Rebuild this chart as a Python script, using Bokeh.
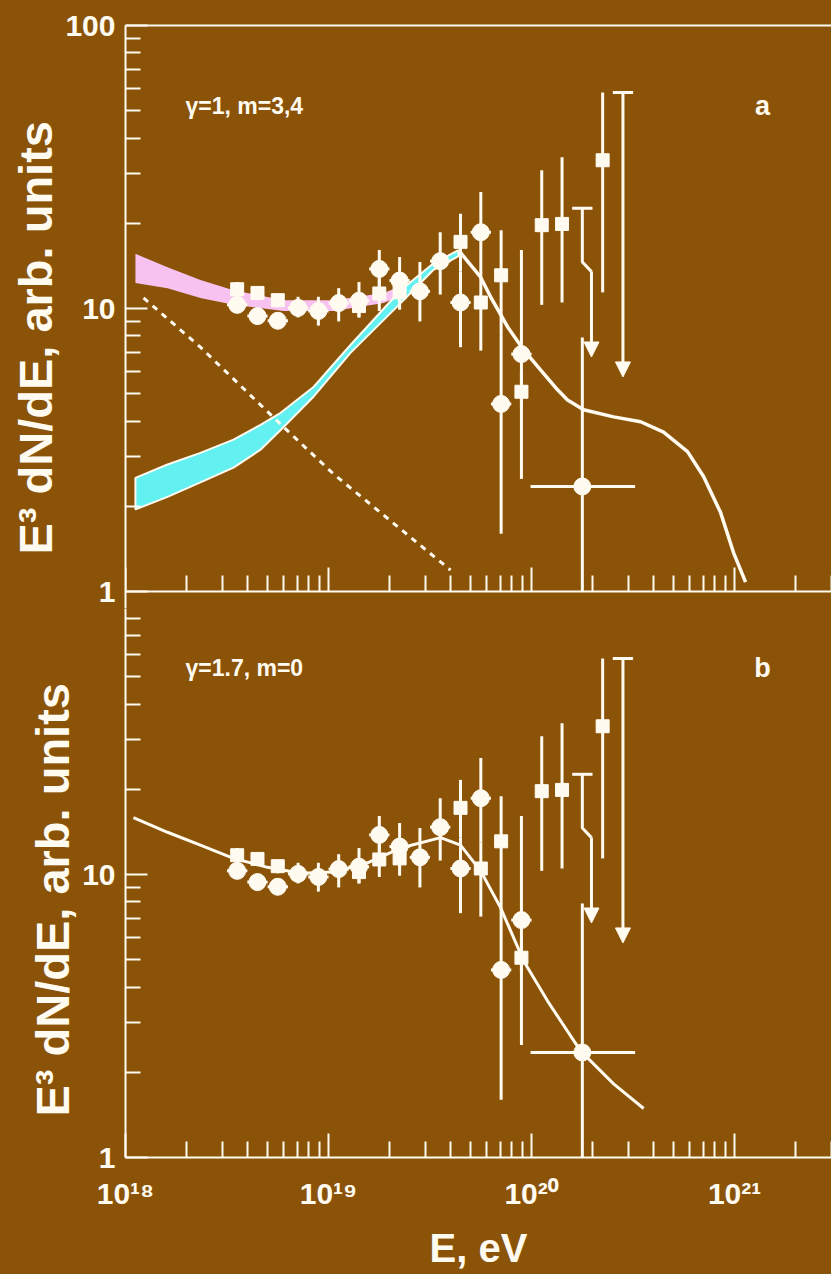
from bokeh.plotting import figure
from bokeh.layouts import column
from bokeh.models import (Range1d, LogAxis, FixedTicker, BasicTickFormatter,
                          Label, Arrow, NormalHead, Title)
from bokeh.embed import file_html
from bokeh.resources import INLINE

# ---------------- data ----------------
x_tick_values = [1e18, 1e19, 1e20, 1e21]
x_tick_labels = ["10¹⁸", "10¹⁹", "10²⁰", "10²¹"]
y_tick_values_a = [1, 10, 100]
y_tick_labels_a = ["1", "10", "100"]
y_tick_values_b = [1, 10]
y_tick_labels_b = ["1", "10"]

x_title = "E, eV"
y_title = "E³ dN/dE,  arb. units"
panel_notes = ["γ=1, m=3,4", "γ=1.7, m=0"]
panel_letters = ["a", "b"]

# measured points, circles (log10 E/eV, E^3 dN/dE)
circle_log10E = [18.55, 18.65, 18.75, 18.85, 18.95, 19.05, 19.15, 19.25, 19.35, 19.45,
                 19.55, 19.65, 19.75, 19.85, 19.95, 20.25]
circle_flux = [10.3, 9.4, 9.05, 10.05, 9.8, 10.45, 10.65, 13.8, 12.55, 11.5,
               14.7, 10.5, 18.6, 4.6, 6.9, 2.35]
circle_err_lo = [9.7, 8.8, 8.5, 9.3, 8.7, 9.0, 9.3, 12.0, 10.6, 9.0,
                 11.2, 7.3, 13.0, 1.6, 4.5, 1.0]
circle_err_hi = [10.9, 10.0, 9.6, 11.0, 11.0, 11.8, 12.4, 16.1, 15.2, 14.6,
                 18.6, 13.5, 25.8, 8.0, 16.1, 7.9]
circle_log10E_lo = [18.50, 18.60, 18.70, 18.80, 18.90, 19.00, 19.10, 19.20, 19.30, 19.40,
                    19.50, 19.60, 19.70, 19.80, 19.90, 19.995]
circle_log10E_hi = [18.60, 18.70, 18.80, 18.90, 19.00, 19.10, 19.20, 19.30, 19.40, 19.50,
                    19.60, 19.70, 19.80, 19.90, 20.00, 20.51]

# measured points, squares
square_log10E = [18.55, 18.65, 18.75, 19.15, 19.25, 19.35, 19.65, 19.75, 19.85, 19.95,
                 20.05, 20.15, 20.35]
square_flux = [11.7, 11.35, 10.7, 10.2, 11.3, 11.4, 17.2, 10.5, 13.1, 5.08, 19.7, 19.9, 33.4]
square_err_lo = [11.0, 10.7, 10.1, 9.3, 9.8, 9.9, 13.5, 7.1, 8.0, 2.5, 10.3, 10.5, 11.4]
square_err_hi = [12.4, 12.0, 11.3, 11.2, 12.8, 13.0, 21.6, 13.0, 18.9, 6.0, 30.8, 34.2, 58.0]

# upper limits (path of the arrow, last point is the arrow tip)
ul1_log10E = [20.25, 20.25, 20.295, 20.295]
ul1_flux = [22.6, 14.6, 13.5, 6.74]
ul2_log10E = [20.45, 20.45]
ul2_flux = [58.0, 5.73]
ul_cap_log10E_lo = [20.20, 20.40]
ul_cap_log10E_hi = [20.30, 20.50]
ul_cap_flux = [22.6, 58.0]

# panel a model: pink band, cyan band, dashed line, solid line
pink_log10E = [18.049, 18.207, 18.369, 18.532, 18.778, 19.025, 19.271, 19.330]
pink_hi = [15.6, 14.0, 12.6, 11.6, 10.7, 10.7, 11.35, 11.8]
pink_lo = [12.3, 11.8, 10.9, 10.3, 9.8, 9.8, 10.45, 10.9]

cyan_log10E = [18.049, 18.207, 18.369, 18.532, 18.665, 18.764, 18.926, 19.108, 19.355, 19.517, 19.640]
cyan_hi = [2.52, 2.81, 3.09, 3.44, 3.88, 4.28, 5.28, 7.43, 11.6, 14.45, 16.07]
cyan_lo = [1.95, 2.16, 2.43, 2.74, 3.17, 3.72, 4.88, 6.97, 10.45, 13.7, 15.3]

dashed_log10E = [18.089, 18.369, 18.764, 19.025, 19.601]
dashed_flux = [10.9, 7.3, 3.9, 2.6, 1.19]

curve_a_log10E = [19.640, 19.749, 19.798, 19.882, 19.961, 20.044, 20.128, 20.177, 20.256,
                  20.404, 20.537, 20.650, 20.768, 20.847, 20.931, 20.995, 21.054]
curve_a_flux = [16.07, 12.9, 11.0, 8.61, 7.14, 6.07, 5.16, 4.75, 4.39,
                4.14, 3.98, 3.66, 3.12, 2.55, 1.90, 1.37, 1.08]

# panel b model
curve_b_log10E = [18.039, 18.207, 18.369, 18.532, 18.700, 18.862, 19.025, 19.192, 19.355,
                  19.552, 19.650, 19.749, 19.847, 19.961, 20.079, 20.241, 20.404, 20.552]
curve_b_flux = [15.9, 14.1, 12.7, 11.4, 10.6, 10.1, 10.2, 11.0, 12.4,
                13.5, 12.7, 10.3, 7.64, 4.95, 3.57, 2.38, 1.82, 1.49]

# ---------------- style ----------------
BROWN = "#8B5308"
CREAM = "#FFFBF0"
PINK = "#F8C2F0"
CYAN = "#62F0F0"
FONT = "Liberation Sans"
PX_PER_DECADE = 283.0
EXT = 17          # px the top frame reaches below its y=1 line


def E(arr):
    return [10 ** v for v in arr]


x_minor = [m * 10 ** e for e in (18, 19, 20, 21) for m in range(2, 10)]
y_minor = [m * 10 ** e for e in (0, 1) for m in range(2, 10)]
x_range = Range1d(1e18, 3.0e21)


def style_axis(ax, tick_in, minor_in, standoff):
    ax.axis_line_color = CREAM
    ax.axis_line_width = 2
    ax.major_tick_line_color = CREAM
    ax.major_tick_line_width = 2
    ax.minor_tick_line_color = CREAM
    ax.minor_tick_line_width = 2
    ax.major_tick_in = tick_in
    ax.major_tick_out = 0
    ax.minor_tick_in = minor_in
    ax.minor_tick_out = 0
    ax.major_label_text_color = CREAM
    ax.major_label_text_font = FONT
    ax.major_label_text_font_style = "bold"
    ax.major_label_text_font_size = "30px"
    ax.major_label_standoff = standoff


def make_fig(height, y_range, b_top, b_bottom):
    p = figure(width=831, height=height, x_axis_type="log", y_axis_type="log",
               x_range=x_range, y_range=y_range,
               x_axis_location=None, y_axis_location=None,
               toolbar_location=None, output_backend="svg",
               min_border_left=125, min_border_right=0,
               min_border_top=b_top, min_border_bottom=b_bottom,
               styles={"background-color": BROWN})
    p.title.visible = False
    p.background_fill_color = BROWN
    p.border_fill_color = BROWN
    p.outline_line_color = None
    p.xgrid.visible = False
    p.ygrid.visible = False
    return p


def add_y_axis(p, ticks, labels, title_offset):
    ax = LogAxis(ticker=FixedTicker(ticks=ticks, minor_ticks=y_minor),
                 formatter=BasicTickFormatter(),
                 major_label_overrides=dict(zip(ticks, labels)))
    style_axis(ax, 22, 15, 10)
    p.add_layout(ax, "left")
    p.add_layout(Title(text=y_title, align="left", offset=title_offset, standoff=0,
                       vertical_align="middle", text_font=FONT, text_font_style="bold",
                       text_font_size="47px", text_color=CREAM), "left")


def draw_data(p):
    cE = E(circle_log10E)
    sE = E(square_log10E)
    p.segment(x0=cE, y0=circle_err_lo, x1=cE, y1=circle_err_hi, line_color=CREAM, line_width=3)
    p.segment(x0=E(circle_log10E_lo), y0=circle_flux, x1=E(circle_log10E_hi), y1=circle_flux,
              line_color=CREAM, line_width=3)
    p.segment(x0=sE, y0=square_err_lo, x1=sE, y1=square_err_hi, line_color=CREAM, line_width=3)
    p.scatter(x=cE, y=circle_flux, marker="circle", size=17, fill_color=CREAM, line_color=CREAM)
    p.scatter(x=sE, y=square_flux, marker="square", size=13, fill_color=CREAM, line_color=CREAM)
    p.segment(x0=E(ul_cap_log10E_lo), y0=ul_cap_flux, x1=E(ul_cap_log10E_hi), y1=ul_cap_flux,
              line_color=CREAM, line_width=3)
    for lx, fl in ((ul1_log10E, ul1_flux), (ul2_log10E, ul2_flux)):
        xs = E(lx)
        if len(xs) > 2:
            p.line(x=xs[:-1], y=fl[:-1], line_color=CREAM, line_width=3)
        p.add_layout(Arrow(end=NormalHead(size=15, fill_color=CREAM, line_color=CREAM, line_width=1),
                           x_start=xs[-2], y_start=fl[-2], x_end=xs[-1], y_end=fl[-1],
                           line_color=CREAM, line_width=3))


def note(p, text, x, y, size, align="left"):
    p.add_layout(Label(x=x, y=y, x_units="screen", y_units="screen", text=text,
                       text_font=FONT, text_font_style="bold", text_font_size=size,
                       text_color=CREAM, text_align=align, text_baseline="middle"))


# ================= panel a (top) =================
TOP_FRAME_TOP = 25
TOP_H = TOP_FRAME_TOP + int(2 * PX_PER_DECADE) + EXT     # 25 + 566 + 17 = 608
pa = make_fig(TOP_H, Range1d(10 ** (-EXT / PX_PER_DECADE), 100), TOP_FRAME_TOP, 0)
add_y_axis(pa, y_tick_values_a, y_tick_labels_a, 54)

xa = LogAxis(ticker=FixedTicker(ticks=x_tick_values, minor_ticks=x_minor),
             formatter=BasicTickFormatter(), fixed_location=1)
style_axis(xa, 24, 16, 0)
xa.major_label_text_color = None
pa.add_layout(xa, "below")

xt = LogAxis(ticker=FixedTicker(ticks=[]))
style_axis(xt, 0, 0, 0)
xt.major_label_text_color = None
pa.add_layout(xt, "above")

pa.varea(x=E(pink_log10E), y1=pink_lo, y2=pink_hi, fill_color=PINK)
pa.patch(x=E(cyan_log10E) + E(cyan_log10E)[::-1], y=cyan_hi + cyan_lo[::-1],
         fill_color=CYAN, line_color=CREAM, line_width=2)
pa.line(x=E(dashed_log10E), y=dashed_flux, line_color=CREAM, line_width=3, line_dash="6 6")
pa.line(x=E(curve_a_log10E), y=curve_a_flux, line_color=CREAM, line_width=3.5)
draw_data(pa)
note(pa, panel_notes[0], 60, TOP_H - TOP_FRAME_TOP - 80, "23px")
note(pa, panel_letters[0], 637, TOP_H - TOP_FRAME_TOP - 80, "27px", align="center")

# ================= panel b (bottom) =================
BOT_H = 1274 - TOP_H            # 666
BOT_BORDER = 117
BOT_FRAME = BOT_H - BOT_BORDER  # 549
pb = make_fig(BOT_H, Range1d(1, 10 ** (BOT_FRAME / PX_PER_DECADE)), 0, BOT_BORDER)
add_y_axis(pb, y_tick_values_b, y_tick_labels_b, 41)

xb = LogAxis(ticker=FixedTicker(ticks=x_tick_values, minor_ticks=x_minor),
             formatter=BasicTickFormatter(),
             major_label_overrides=dict(zip(x_tick_values, x_tick_labels)),
             axis_label=x_title)
style_axis(xb, 24, 16, 19)
xb.axis_label_text_font = FONT
xb.axis_label_text_font_style = "bold"
xb.axis_label_text_font_size = "40px"
xb.axis_label_text_color = CREAM
xb.axis_label_standoff = 13
pb.add_layout(xb, "below")

pb.line(x=E(curve_b_log10E), y=curve_b_flux, line_color=CREAM, line_width=3)
draw_data(pb)
note(pb, panel_notes[1], 60, 490, "23px")
note(pb, panel_letters[1], 637, 490, "27px", align="center")

layout = column(pa, pb, spacing=0, styles={"background-color": BROWN})
html = file_html(layout, INLINE, title="E3 dN/dE spectra")
html = html.replace("</head>",
                    "<style>html, body { background-color: %s; }</style></head>" % BROWN, 1)
open("out.html", "w").write(html)
